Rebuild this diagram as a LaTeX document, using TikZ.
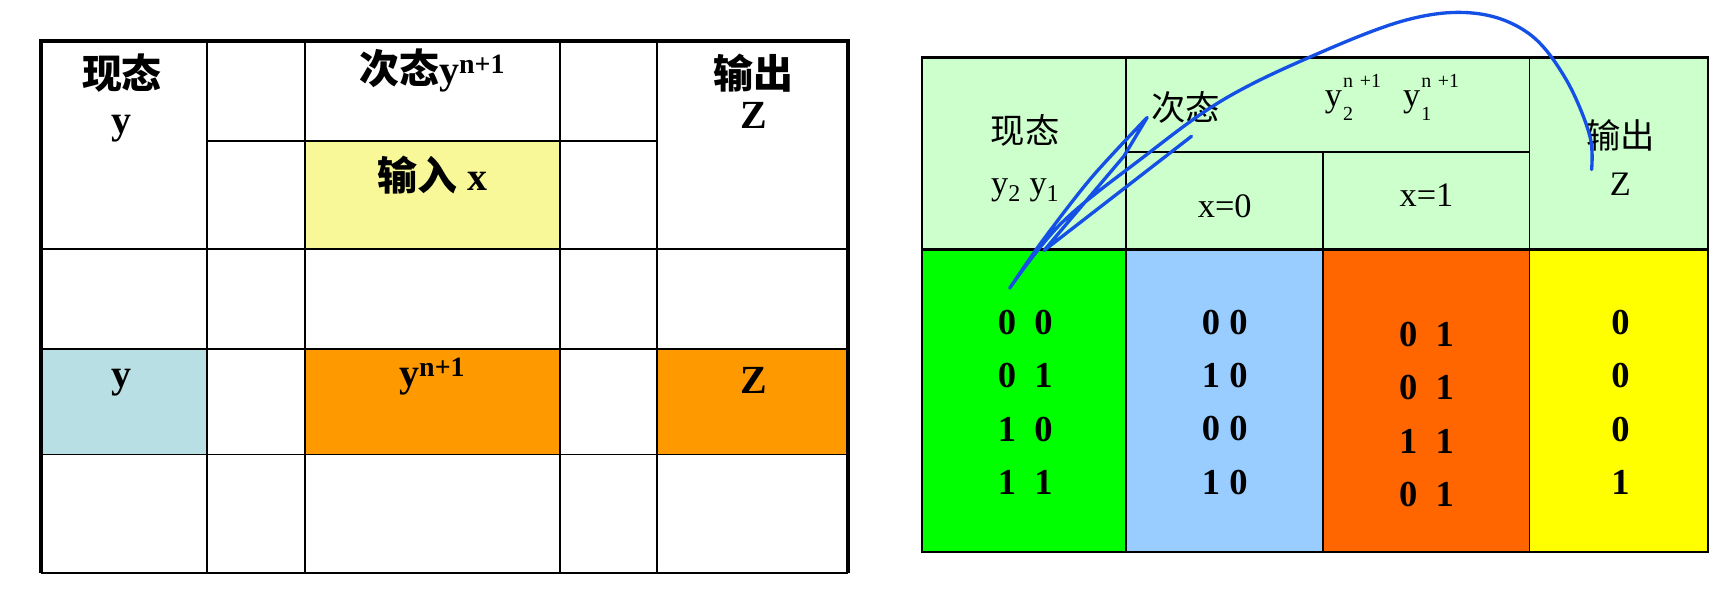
\documentclass[tikz,border=0pt]{standalone}
\usepackage{fontspec}
\setmainfont{Liberation Serif}
\newfontfamily\cjk{Noto Sans CJK SC}
\newcommand{\ysup}[1]{y\kern1pt\rlap{\raisebox{0.55em}{\fontsize{18}{18}\selectfont n\,\,+1}}\raisebox{-0.4em}{\fontsize{18}{18}\selectfont #1}\kern1.2em}
\begin{document}
\begin{tikzpicture}[x=1pt,y=-1pt,
  bt/.style={font=\fontsize{36}{38}\selectfont\bfseries},
  bc/.style={font=\fontsize{36}{38}\selectfont\cjk\bfseries},
  rt/.style={font=\fontsize{31}{33}\selectfont},
  rc/.style={font=\fontsize{31}{33}\selectfont\cjk},
  rd/.style={font=\fontsize{33}{48}\selectfont\bfseries,align=center},
  thin/.style={line width=1.6pt},
  thick/.style={line width=3.5pt}]
\useasboundingbox (0,0) rectangle (1560,545);
% left table fills
\fill[fill={rgb,255:red,248;green,248;blue,152}] (275,127) rectangle (505,225);
\fill[fill={rgb,255:red,184;green,224;blue,228}] (37,315) rectangle (187,410);
\fill[fill={rgb,255:red,255;green,153;blue,0}] (275,315) rectangle (505,410);
\fill[fill={rgb,255:red,255;green,153;blue,0}] (593,315) rectangle (765,410);
% left grid
\foreach \x in {187,275,505,593} \draw[thin] (\x,37) -- (\x,517);
\foreach \y in {225,315,410} \draw[thin] (37,\y) -- (765,\y);
\draw[thin] (187,127) -- (593,127);
\draw[thin] (37,517) -- (765,517);
\draw[thick] (37,517) -- (37,37) -- (765,37) -- (765,517);
% left texts
\node[bc] (l1) at (110,66) {现态};
\node[bt] (l2) at (110,116) {y};
\node[bt] (l3) at (390,64) {{\cjk 次态}y\textsuperscript{n+1}};
\node[bc] (l4) at (680,66) {输出};
\node[bt] (l5) at (680,104) {Z};
\node[bt] (l6) at (390,158) {{\cjk 输入} x};
\node[bt] (l7) at (110,345) {y};
\node[bt] (l8) at (390,340) {y\textsuperscript{n+1}};
\node[bt] (l9) at (680,343) {Z};
% right table fills
\fill[fill={rgb,255:red,204;green,255;blue,204}] (832,52) rectangle (1541,225);
\fill[fill={rgb,255:red,0;green,255;blue,0}] (832,225) rectangle (1016,498);
\fill[fill={rgb,255:red,153;green,204;blue,255}] (1016,225) rectangle (1194,498);
\fill[fill={rgb,255:red,255;green,102;blue,0}] (1194,225) rectangle (1380,498);
\fill[fill={rgb,255:red,255;green,255;blue,0}] (1380,225) rectangle (1541,498);
\foreach \x in {1016,1380} \draw[thin] (\x,52) -- (\x,498);
\draw[thin] (1194,137) -- (1194,498);
\draw[thin] (1016,137) -- (1380,137);
\draw[line width=2.4pt] (832,225) -- (1541,225);
\draw[line width=2.4pt] (832,52) rectangle (1541,498);
% right texts
\node[rc] (r1) at (925,118) {现态};
\node[rt] (r2) at (925,172) {y\textsubscript{2} y\textsubscript{1}};
\node[rc] (r3) at (1070,97) {次态};
\node[rt] (r4) at (1262,88) {\ysup{2}\ \ysup{1}};
\node[rt] (r5) at (1105,186) {x=0};
\node[rt] (r6) at (1287,176) {x=1};
\node[rc] (r7) at (1462,122) {输出};
\node[rt] (r8) at (1462,166) {Z};
\node[rd] (d1) at (925,363) {0\ \ 0\\0\ \ 1\\1\ \ 0\\1\ \ 1};
\node[rd] (d2) at (1105,363) {0 0\\1 0\\0 0\\1 0};
\node[rd] (d3) at (1287,374) {0\ \ 1\\0\ \ 1\\1\ \ 1\\0\ \ 1};
\node[rd] (d4) at (1462,363) {0\\0\\0\\1};
% blue scribble
\draw[line width=3pt,color={rgb,255:red,20;green,80;blue,230},line join=round,line cap=round]
  plot[smooth,tension=0.6] coordinates {(1436,153) (1434,121) (1412,70) (1379,30) (1331,12) (1269,18) (1183,51) (1102,91) (1030,143) (958,201) (911,260)}
  plot[smooth,tension=0.5] coordinates {(911,260) (940,218) (985,160) (1035,106)}
  -- (1014,141) -- (942,226) -- (1075,123);
\end{tikzpicture}
\end{document}
